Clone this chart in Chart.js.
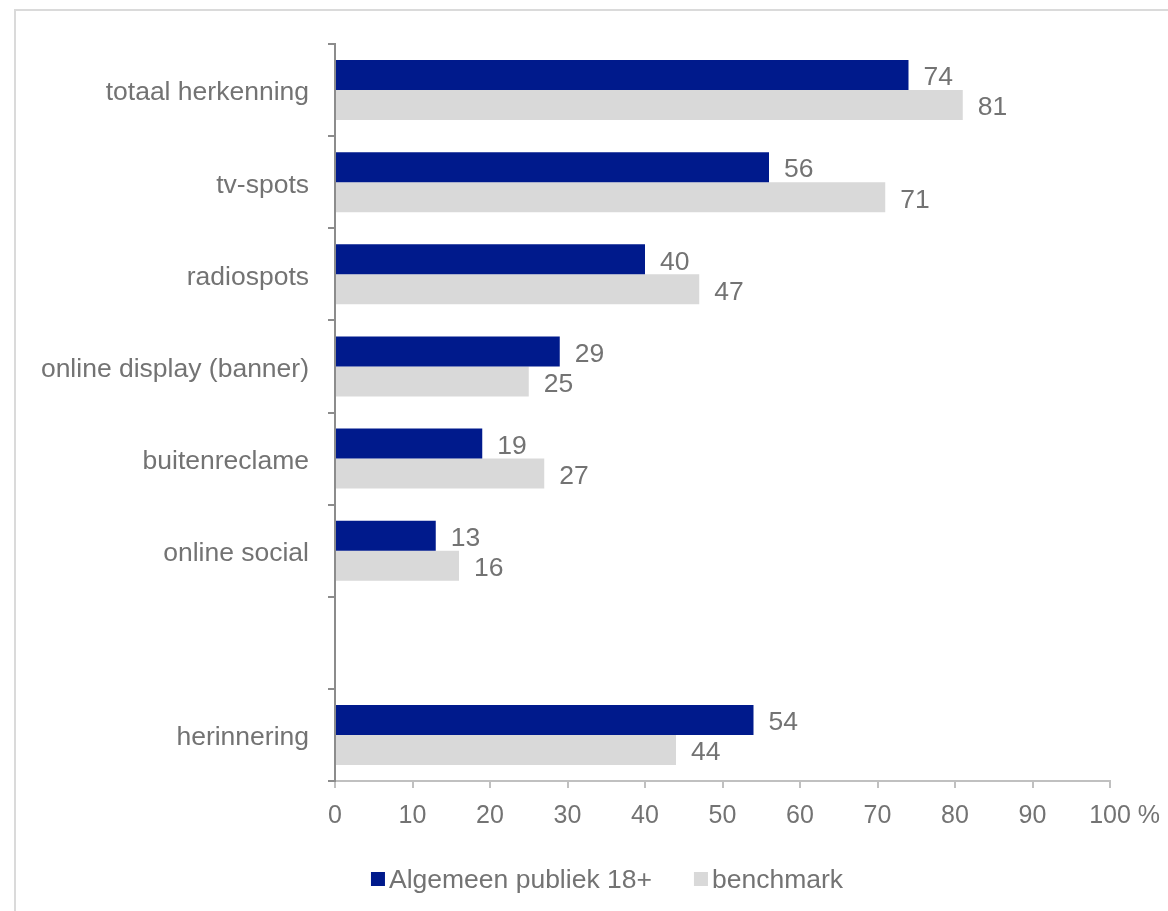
<!DOCTYPE html>
<html>
<head>
<meta charset="utf-8">
<script src="https://cdn.jsdelivr.net/npm/chart.js@4/dist/chart.umd.min.js"></script>
<style>
  html, body { margin: 0; padding: 0; background: #fff; }
  #wrap { position: relative; width: 1168px; height: 911px; overflow: hidden; }
  #frame { position: absolute; left: 14px; top: 9px; width: 1200px; height: 950px;
           border-top: 2px solid #dadada; border-left: 2px solid #dadada; pointer-events: none; }
  canvas { position: absolute; left: 0; top: 0; }
</style>
</head>
<body>
<div id="wrap">
  <canvas id="c" width="1168" height="911"></canvas>
  <div id="frame"></div>
</div>
<script>
// ---- data ----
const categories = ['totaal herkenning', 'tv-spots', 'radiospots', 'online display (banner)',
                    'buitenreclame', 'online social', '', 'herinnering'];
const seriesNames = ['Algemeen publiek 18+', 'benchmark'];
const algemeen = [74, 56, 40, 29, 19, 13, null, 54];
const benchmark = [81, 71, 47, 25, 27, 16, null, 44];
const xTicks = [0, 10, 20, 30, 40, 50, 60, 70, 80, 90, 100];
const xUnit = '%';

// ---- styles ----
const BLUE = '#001A8C';
const GREY = '#D9D9D9';
const TEXT = '#737373';
const FONT = 'Liberation Sans, Arial, sans-serif';
const TICK_PAD = 13;

const labelPlugin = {
  id: 'customLabels',
  afterDatasetsDraw(chart) {
    const ctx = chart.ctx;
    ctx.save();
    ctx.font = '26.5px ' + FONT;
    ctx.fillStyle = TEXT;
    ctx.textAlign = 'left';
    ctx.textBaseline = 'middle';
    chart.data.datasets.forEach((ds, i) => {
      const meta = chart.getDatasetMeta(i);
      meta.data.forEach((el, j) => {
        const v = ds.data[j];
        if (v === null || v === undefined) return;
        ctx.fillText(String(v), el.x + 15, el.y + 3);
      });
    });
    ctx.restore();
  },
  afterDraw(chart) {
    const ctx = chart.ctx;
    const xs = chart.scales.x;
    ctx.save();
    // unit after last tick
    ctx.font = '25px ' + FONT;
    ctx.fillStyle = TEXT;
    ctx.textBaseline = 'middle';
    ctx.textAlign = 'left';
    const last = xTicks[xTicks.length - 1];
    const px = xs.getPixelForValue(last);
    const w = ctx.measureText(String(last)).width;
    ctx.fillText(' ' + xUnit, px + w / 2, xs.top + 7 + TICK_PAD + 15);
    // legend
    ctx.font = '26.5px ' + FONT;
    const box = 14, gapText = 4, gapItem = 42;
    const items = chart.data.datasets.map(d => ({ label: d.label, color: d.backgroundColor }));
    let total = 0;
    items.forEach((it, k) => {
      it.w = ctx.measureText(it.label).width;
      total += box + gapText + it.w + (k < items.length - 1 ? gapItem : 0);
    });
    let x = 607 - total / 2;
    const cy = 879;
    items.forEach(it => {
      ctx.fillStyle = it.color;
      ctx.fillRect(x, cy - box / 2, box, box);
      ctx.fillStyle = TEXT;
      ctx.fillText(it.label, x + box + gapText, cy + 2);
      x += box + gapText + it.w + gapItem;
    });
    ctx.restore();
  }
};

new Chart(document.getElementById('c'), {
  type: 'bar',
  data: {
    labels: categories,
    datasets: [
      { label: seriesNames[0], data: algemeen, backgroundColor: BLUE, borderWidth: 0,
        categoryPercentage: 0.652, barPercentage: 1 },
      { label: seriesNames[1], data: benchmark, backgroundColor: GREY, borderWidth: 0,
        categoryPercentage: 0.652, barPercentage: 1 }
    ]
  },
  options: {
    indexAxis: 'y',
    responsive: false,
    animation: false,
    devicePixelRatio: 1,
    layout: { padding: { top: 44, right: 58, left: 0, bottom: 0 } },
    plugins: { legend: { display: false }, tooltip: { enabled: false } },
    scales: {
      x: {
        type: 'linear',
        min: 0, max: 100,
        afterBuildTicks(scale) { scale.ticks = xTicks.map(v => ({ value: v })); },
        afterFit(scale) { scale.height = 130; },
        border: { display: true, color: '#c0c0c0', width: 2 },
        grid: { drawOnChartArea: false, drawTicks: true, tickLength: 7, color: '#c0c0c0', lineWidth: 2 },
        ticks: { color: TEXT, font: { family: FONT, size: 25 }, padding: TICK_PAD, maxRotation: 0,
                 callback: v => String(v) }
      },
      y: {
        type: 'category',
        afterFit(scale) { scale.width = 335; },
        border: { display: true, color: '#8c8c8c', width: 2 },
        grid: { drawOnChartArea: false, drawTicks: true, tickLength: 7, color: '#8c8c8c', lineWidth: 2, offset: true },
        ticks: { color: TEXT, font: { family: FONT, size: 26.5 }, padding: 19, labelOffset: 3, autoSkip: false }
      }
    }
  },
  plugins: [labelPlugin]
});
</script>
</body>
</html>
